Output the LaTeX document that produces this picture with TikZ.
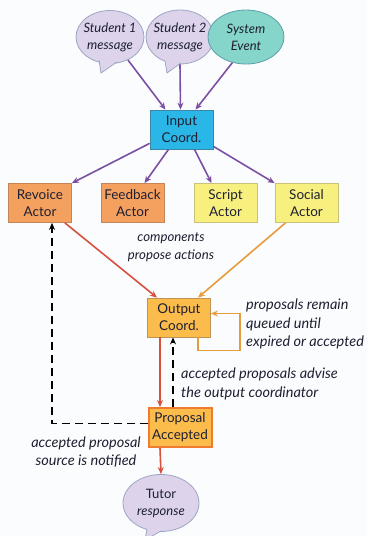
\documentclass[tikz,border=0pt]{standalone}
\usepackage{fontspec}
\setmainfont{Lato}
\usetikzlibrary{arrows.meta,shapes.geometric}
\definecolor{bgc}{HTML}{FBFCFE}
\definecolor{lav}{HTML}{DDD3EA}
\definecolor{lavb}{HTML}{9CA6C4}
\definecolor{teal}{HTML}{86D5CA}
\definecolor{tealb}{HTML}{5C9FA8}
\definecolor{cyanf}{HTML}{2AB6E6}
\definecolor{cyanb}{HTML}{3D86A8}
\definecolor{orf}{HTML}{F4A05E}
\definecolor{orb}{HTML}{C4855A}
\definecolor{yef}{HTML}{F7F07F}
\definecolor{yeb}{HTML}{C9C27A}
\definecolor{gof}{HTML}{FBBC4C}
\definecolor{gob}{HTML}{BE9450}
\definecolor{propb}{HTML}{F07A2E}
\definecolor{purp}{HTML}{7B4FA3}
\definecolor{redc}{HTML}{D8503E}
\definecolor{orc}{HTML}{E89B3C}
\definecolor{txt}{HTML}{1E2032}
\tikzset{
  box/.style={draw, minimum width=63pt, minimum height=39pt, align=center, inner sep=1pt,
    font=\fontsize{13.5}{17}\selectfont, text=txt, line width=0.8pt},
  bubble/.style={ellipse, draw=lavb, fill=lav, line width=0.8pt, align=center, inner sep=0pt,
    font=\fontsize{13}{17}\selectfont, text=txt},
  lbl/.style={font=\itshape\fontsize{14.5}{18.5}\selectfont, text=txt, inner sep=0pt},
  parr/.style={draw=purp, line width=1.6pt, -{Stealth[length=7pt,width=6pt]}},
  rarr/.style={draw=redc, line width=1.6pt, -{Stealth[length=7pt,width=6pt]}},
  oarr/.style={draw=orc, line width=1.6pt, -{Stealth[length=7pt,width=6pt]}},
  darr/.style={draw=black, line width=1.6pt, dash pattern=on 8pt off 5pt, -{Stealth[length=7pt,width=6pt]}},
}
\begin{document}
\begin{tikzpicture}[x=1pt,y=-1pt]
\useasboundingbox (0,0) rectangle (367,536);
\fill[bgc] (0,0) rectangle (367,536);
\begin{scope}
\clip (0,0) rectangle (367,536);
% bubbles
\node[bubble, minimum width=68pt, minimum height=53pt] (s1) at (110,37) {};
\fill[lav] (110,37) -- (99,59) -- (101,73) -- (117,61) -- cycle;
\draw[lavb, line width=0.8pt] (99,60) -- (101,73) -- (117,62);
\node[font=\itshape\fontsize{13}{17}\selectfont, text=txt, align=center] at (s1.center) {Student 1\\message};
\node[bubble, minimum width=68pt, minimum height=54pt] (s2) at (180,37) {};
\fill[lav] (180,37) -- (165,60) -- (167,73) -- (181,62) -- cycle;
\draw[lavb, line width=0.8pt] (165,61) -- (167,73) -- (181,63);
\node[font=\itshape\fontsize{13}{17}\selectfont, text=txt, align=center] at (s2.center) {Student 2\\message};
\node[bubble, fill=teal, draw=tealb, minimum width=76pt, minimum height=54pt, font=\itshape\fontsize{13}{17}\selectfont] (sys) at (246,37) {System\\Event};
\node[bubble, minimum width=76pt, minimum height=57pt] (tutor) at (161,503) {};
\fill[lav] (161,503) -- (147,528) -- (145,540) -- (162,530) -- cycle;
\draw[lavb, line width=0.8pt] (147,529) -- (145,540) -- (161,531);
\node[text=txt, align=center, font=\fontsize{13}{17}\selectfont] at (tutor.center) {Tutor\\\itshape response};
\end{scope}
% boxes
\node[box, fill=cyanf, draw=cyanb] (input) at (181.5,129.5) {Input\\Coord.};
\node[box, fill=orf, draw=orb] (revoice) at (40,203) {Revoice\\Actor};
\node[box, fill=orf, draw=orb] (feedback) at (132.5,203) {Feedback\\Actor};
\node[box, fill=yef, draw=yeb] (script) at (225.5,203) {Script\\Actor};
\node[box, fill=yef, draw=yeb] (social) at (306.5,203) {Social\\Actor};
\node[box, fill=gof, draw=gob] (output) at (179,317.5) {Output\\Coord.};
\node[box, fill=gof, draw=propb, line width=2pt] (proposal) at (180,427.5) {Proposal\\Accepted};
% labels
\node[lbl, align=center, font=\itshape\fontsize{13.2}{18}\selectfont] (l1) at (171,247) {components\\propose actions};
\node[lbl, align=left, anchor=west] (l2) at (246,324) {proposals remain\\queued until\\expired or accepted};
\node[lbl, align=left, anchor=west] (l3) at (181,384) {accepted proposals advise\\the output coordinator};
\node[lbl, align=center] (l4) at (86,452) {accepted proposal\\source is notified};
% arrows in
\draw[parr] (s1.-52) -- ([xshift=-16pt]input.north);
\draw[parr] (s2.south) -- ([xshift=-1pt]input.north);
\draw[parr] (sys.-118) -- ([xshift=14pt]input.north);
\draw[parr] ([yshift=6pt]input.south west) -- (revoice.north east);
\draw[parr] ([xshift=-13pt]input.south) -- ([xshift=12pt]feedback.north);
\draw[parr] ([xshift=13pt]input.south) -- ([xshift=-14pt]script.north);
\draw[parr] ([yshift=3pt]input.south east) -- (social.north west);
% to output
\draw[rarr] ([xshift=-7pt]revoice.south east) -- ([xshift=-22pt]output.north);
\draw[oarr] ([xshift=19pt]output.south) -- ++(0,13) -- ++(42,0) coordinate (lc) |- ([yshift=4pt]output.east);
\draw[oarr] ([xshift=-21pt]social.south) -- ([xshift=19pt]output.north);
\draw[rarr] ([xshift=-19pt]output.south) -- ([xshift=-20pt]proposal.north);
\draw[darr] ([xshift=-7pt]proposal.north) -- ([xshift=-6pt]output.south);
\draw[darr] ([yshift=4pt]proposal.west) -| ([xshift=12pt]revoice.south);
\draw[rarr] ([xshift=-20pt]proposal.south) -- (tutor.north);
\end{tikzpicture}
\end{document}
